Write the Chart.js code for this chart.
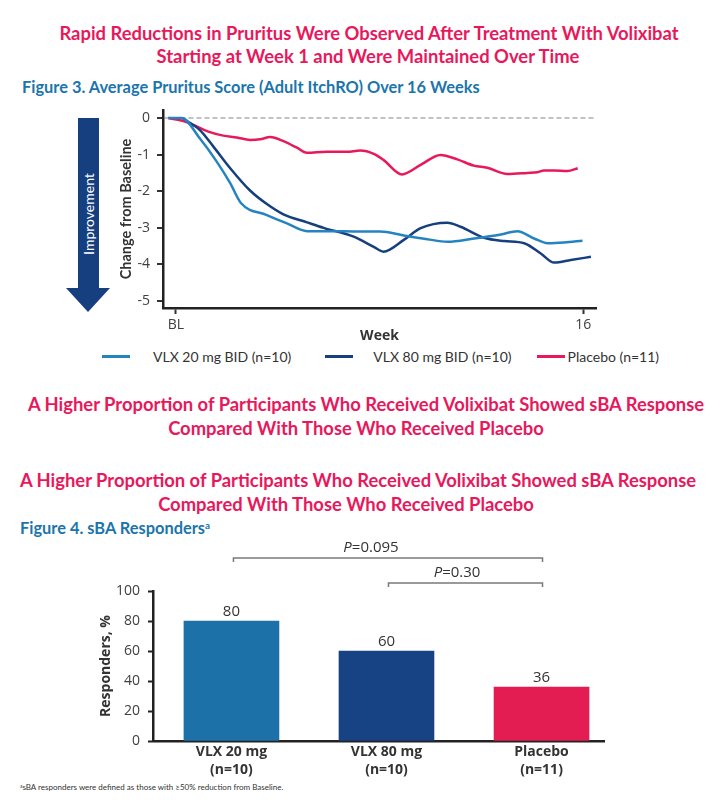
<!DOCTYPE html>
<html>
<head>
<meta charset="utf-8">
<script src="https://cdn.jsdelivr.net/npm/chart.js@4.4.1/dist/chart.umd.min.js"></script>
<style>
  html, body { margin: 0; padding: 0; background: #fff; }
  body { width: 706px; height: 805px; position: relative; overflow: hidden; font-family: Lato, sans-serif; }
  .hl { position: absolute; white-space: nowrap; transform: translate(-50%, -50%); color: #e8185c; font-weight: 700; font-size: 18.4px; line-height: 22px; }
  .fig { position: absolute; white-space: nowrap; color: #1b75ab; font-weight: 700; font-size: 16.4px; line-height: 18px; transform: translateY(-50%); }
  .fig sup, .note sup { font-size: 60%; vertical-align: 0.5em; line-height: 0; }
  .note { position: absolute; left: 20px; top: 782px; font-size: 8px; color: #333; white-space: nowrap; }
  #arrowBody { position: absolute; left: 78px; top: 118px; width: 21px; height: 171px; background: #163f80; }
  #arrowHead { position: absolute; left: 66px; top: 288px; width: 0; height: 0;
    border-left: 22.5px solid transparent; border-right: 22.5px solid transparent; border-top: 24px solid #163f80; }
  #arrowText { position: absolute; left: 88px; top: 214px; transform: translate(-50%, -50%) rotate(-90deg);
    color: #fff; font-size: 14px; white-space: nowrap; }
  canvas { position: absolute; left: 0; }
  #legend { position: absolute; left: 102px; top: 347px; height: 18px; display: flex; align-items: center;
    font-size: 14px; color: #333; white-space: nowrap; }
  #legend .item { display: flex; align-items: center; margin-right: 34px; }
  #legend .item:nth-child(2) { margin-right: 25px; }
  #legend .swatch { width: 28px; height: 3px; margin-right: 23px; }
  #legend .item:nth-child(2) .swatch { margin-right: 20px; }
  #legend .item:nth-child(3) .swatch { margin-right: 3px; }
</style>
</head>
<body>

<div class="hl" style="left:369px; top:33px">Rapid Reductions in Pruritus Were Observed After Treatment With Volixibat</div>
<div class="hl" style="left:368px; top:56px">Starting at Week 1 and Were Maintained Over Time</div>
<div class="fig" style="left:22px; top:87px">Figure 3. Average Pruritus Score (Adult ItchRO) Over 16 Weeks</div>

<div id="arrowBody"></div>
<div id="arrowHead"></div>
<div id="arrowText">Improvement</div>

<canvas id="lineChart" width="706" height="244" style="top:100px"></canvas>
<div id="legend"></div>

<div class="hl" style="left:366px; top:404px">A Higher Proportion of Participants Who Received Volixibat Showed sBA Response</div>
<div class="hl" style="left:356px; top:428px">Compared With Those Who Received Placebo</div>
<div class="hl" style="left:358px; top:480px">A Higher Proportion of Participants Who Received Volixibat Showed sBA Response</div>
<div class="hl" style="left:346px; top:504px">Compared With Those Who Received Placebo</div>
<div class="fig" style="left:20px; top:528px">Figure 4. sBA Responders<sup>a</sup></div>

<canvas id="barChart" width="706" height="245" style="top:535px"></canvas>

<div class="note"><sup>a</sup>sBA responders were defined as those with ≥50% reduction from Baseline.</div>

<script>
// Figure 3 - change from baseline in ItchRO score, by week
const vlx20Weeks = [-0.3, 0.22, 0.94, 1.6, 2.13, 2.55, 3.57, 4.36, 5.15, 5.93, 7.24, 8.03, 8.95, 9.87, 10.66, 11.71, 12.76, 13.41, 14.07, 14.6, 15.25, 15.97];
const vlx20Change = [0, 0, -0.56, -1.19, -1.78, -2.32, -2.65, -2.88, -3.09, -3.09, -3.1, -3.1, -3.21, -3.31, -3.38, -3.29, -3.18, -3.09, -3.29, -3.42, -3.4, -3.35];

const vlx80Weeks = [0.25, 0.94, 1.47, 2.13, 2.91, 3.57, 4.22, 5.15, 5.8, 6.98, 7.77, 8.15, 8.95, 9.61, 10.66, 11.18, 12.1, 12.89, 13.68, 14.33, 14.86, 15.51, 16.3];
const vlx80Change = [0, -0.33, -0.78, -1.37, -1.98, -2.35, -2.63, -2.85, -3.0, -3.24, -3.52, -3.65, -3.33, -3.01, -2.86, -2.97, -3.27, -3.36, -3.42, -3.7, -3.95, -3.88, -3.79];

const placeboWeeks = [-0.3, 0.29, 0.68, 1.27, 1.86, 2.39, 2.91, 3.31, 3.7, 4.22, 4.75, 5.14, 5.93, 6.72, 7.24, 7.77, 8.16, 8.88, 9.61, 10.39, 11.05, 11.7, 12.23, 13.02, 13.8, 14.2, 14.46, 14.86, 15.38, 15.78];
const placeboChange = [0, -0.08, -0.19, -0.37, -0.48, -0.53, -0.6, -0.58, -0.52, -0.63, -0.81, -0.95, -0.92, -0.92, -0.89, -0.98, -1.15, -1.54, -1.28, -1.01, -1.13, -1.3, -1.36, -1.53, -1.5, -1.48, -1.43, -1.43, -1.45, -1.37];

const seriesNames = ['VLX 20 mg BID (n=10)', 'VLX 80 mg BID (n=10)', 'Placebo (n=11)'];
const weekTicks = [0, 16];
const weekTickLabels = ['BL', '16'];
const changeTicks = [0, -1, -2, -3, -4, -5];

// Figure 4 - sBA responders
const groups = [['VLX 20 mg', '(n=10)'], ['VLX 80 mg', '(n=10)'], ['Placebo', '(n=11)']];
const responders = [80, 60, 36];
const responderTicks = [0, 20, 40, 60, 80, 100];
const pComparisons = [
    { from: 0, to: 2, p: '0.095' },
    { from: 1, to: 2, p: '0.30' }
];

const lightBlue = '#2584c0';
const darkBlue = '#163f80';
const pink = '#e8195b';

const toPoints = (xs, ys) => xs.map((x, i) => ({ x: x, y: ys[i] }));

const lineDs = (label, xs, ys, color) => ({
    label: label,
    data: toPoints(xs, ys),
    borderColor: color,
    backgroundColor: color,
    borderWidth: 2.5,
    pointRadius: 0,
    cubicInterpolationMode: 'monotone',
    fill: false
});

// keep the plot area exactly where the layout padding puts it
const noLabelPadding = scale => {
    scale.paddingTop = 0;
    scale.paddingBottom = 0;
    scale.paddingLeft = 0;
    scale.paddingRight = 0;
};

const lineChart = new Chart(document.getElementById('lineChart'), {
    type: 'line',
    data: {
        datasets: [
            lineDs(seriesNames[0], vlx20Weeks, vlx20Change, lightBlue),
            lineDs(seriesNames[1], vlx80Weeks, vlx80Change, darkBlue),
            lineDs(seriesNames[2], placeboWeeks, placeboChange, pink)
        ]
    },
    options: {
        responsive: false,
        animation: false,
        layout: { padding: { left: 118, right: 110, top: 10, bottom: 0 } },
        plugins: { legend: { display: false }, tooltip: { enabled: false } },
        scales: {
            x: {
                type: 'linear',
                min: -0.51,
                max: 16.5,
                afterBuildTicks: scale => { scale.ticks = weekTicks.map(v => ({ value: v })); },
                afterFit: scale => { scale.height = 36; noLabelPadding(scale); },
                ticks: {
                    callback: v => weekTickLabels[weekTicks.indexOf(v)],
                    font: { family: 'Open Sans', size: 14 },
                    color: '#404040',
                    padding: 3,
                    maxRotation: 0
                },
                grid: { drawOnChartArea: false, tickLength: 6, tickWidth: 2, tickColor: '#333' },
                border: { color: '#222', width: 2.5 },
                title: {
                    display: true,
                    text: 'Week',
                    font: { family: 'Open Sans', size: 14, weight: 'bold' },
                    color: '#333',
                    padding: 0
                }
            },
            y: {
                min: -5.19,
                max: 0.22,
                afterBuildTicks: scale => { scale.ticks = changeTicks.map(v => ({ value: v })); },
                afterFit: scale => { scale.width = 45; noLabelPadding(scale); },
                ticks: {
                    font: { family: 'Open Sans', size: 14 },
                    color: '#404040',
                    padding: 7
                },
                grid: {
                    color: ctx => (ctx.tick && ctx.tick.value === 0 ? '#c2c2c2' : 'transparent'),
                    lineWidth: 2,
                    tickLength: 6,
                    tickWidth: 2,
                    tickColor: '#333'
                },
                border: { color: '#222', width: 2.5, dash: [5, 3] },
                title: {
                    display: true,
                    text: 'Change from Baseline',
                    font: { family: 'Lato', size: 14.5, weight: 'bold' },
                    color: '#333',
                    padding: 0
                }
            }
        }
    }
});

// legend built from the chart's datasets
const legendEl = document.getElementById('legend');
lineChart.data.datasets.forEach(ds => {
    const item = document.createElement('span');
    item.className = 'item';
    const sw = document.createElement('span');
    sw.className = 'swatch';
    sw.style.background = ds.borderColor;
    item.appendChild(sw);
    item.appendChild(document.createTextNode(ds.label));
    legendEl.appendChild(item);
});

// value labels above the bars
const barValueLabels = {
    id: 'barValueLabels',
    afterDatasetsDraw(chart) {
        const ctx = chart.ctx;
        const meta = chart.getDatasetMeta(0);
        ctx.save();
        ctx.font = '15px "Open Sans"';
        ctx.fillStyle = '#333';
        ctx.textAlign = 'center';
        ctx.textBaseline = 'alphabetic';
        meta.data.forEach((bar, i) => {
            ctx.fillText(String(responders[i]), bar.x, bar.y - 5);
        });
        ctx.restore();
    }
};

// P-value brackets
const pBrackets = {
    id: 'pBrackets',
    afterDraw(chart) {
        const ctx = chart.ctx;
        const xs = chart.scales.x;
        const top = chart.chartArea.top;
        ctx.save();
        pComparisons.forEach(c => {
            const x1 = xs.getPixelForValue(c.from) + 2;
            const x2 = xs.getPixelForValue(c.to) + 1;
            const level = c.to - c.from - 1;
            const y = top - 8 - 25 * level;
            ctx.strokeStyle = '#7a7a7a';
            ctx.lineWidth = 1.5;
            ctx.beginPath();
            ctx.moveTo(x1, y + 4);
            ctx.lineTo(x1, y);
            ctx.lineTo(x2, y);
            ctx.lineTo(x2, y + 4);
            ctx.stroke();

            const rest = '=' + c.p;
            ctx.font = 'italic 15px "Open Sans"';
            const wP = ctx.measureText('P').width;
            ctx.font = '15px "Open Sans"';
            const wR = ctx.measureText(rest).width;
            const cx = (x1 + x2) / 2 - 0.055 * (x2 - x1);
            const sx = cx - (wP + wR) / 2;
            ctx.fillStyle = '#333';
            ctx.textBaseline = 'alphabetic';
            ctx.textAlign = 'left';
            ctx.font = 'italic 15px "Open Sans"';
            ctx.fillText('P', sx, y - 6);
            ctx.font = '15px "Open Sans"';
            ctx.fillText(rest, sx + wP, y - 6);
        });
        ctx.restore();
    }
};

new Chart(document.getElementById('barChart'), {
    type: 'bar',
    data: {
        datasets: [{
            data: responders.map((v, i) => ({ x: i, y: v })),
            backgroundColor: ['#1c72a8', '#174384', '#e31c52'],
            borderWidth: 0,
            barThickness: 95
        }]
    },
    options: {
        responsive: false,
        animation: false,
        layout: { padding: { left: 98, right: 102, top: 56, bottom: 0 } },
        plugins: { legend: { display: false }, tooltip: { enabled: false } },
        scales: {
            x: {
                type: 'linear',
                offset: false,
                min: -0.506,
                max: 2.403,
                afterBuildTicks: scale => { scale.ticks = groups.map((g, i) => ({ value: i })); },
                afterFit: scale => { scale.height = 39; noLabelPadding(scale); },
                ticks: {
                    callback: v => groups[v],
                    font: { family: 'Open Sans', size: 14, weight: 'bold', lineHeight: 1.3 },
                    color: '#333',
                    padding: 2,
                    maxRotation: 0
                },
                grid: { display: false, drawTicks: false },
                border: { color: '#222', width: 2.5 }
            },
            y: {
                min: 0,
                max: 100,
                afterBuildTicks: scale => { scale.ticks = responderTicks.map(v => ({ value: v })); },
                afterFit: scale => { scale.width = 55; noLabelPadding(scale); },
                ticks: {
                    font: { family: 'Open Sans', size: 14 },
                    color: '#404040',
                    padding: 8
                },
                grid: { drawOnChartArea: false, tickLength: 5, tickWidth: 2, tickColor: '#222' },
                border: { color: '#222', width: 2.5 },
                title: {
                    display: true,
                    text: 'Responders, %',
                    font: { family: 'Open Sans', size: 14, weight: 'bold' },
                    color: '#333',
                    padding: 0
                }
            }
        }
    },
    plugins: [barValueLabels, pBrackets]
});
</script>
</body>
</html>
